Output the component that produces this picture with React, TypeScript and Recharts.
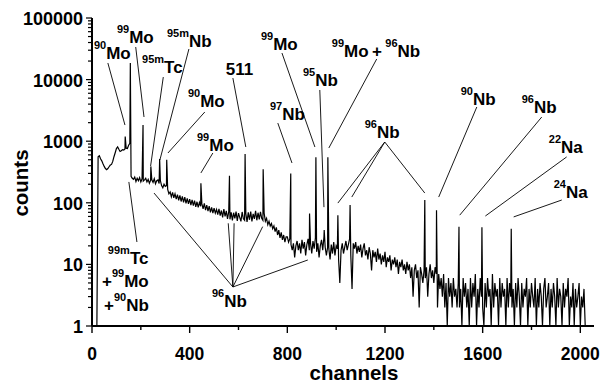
import React from 'react';
import { LineChart, Line, XAxis, YAxis, ReferenceLine, ReferenceDot, Customized } from 'recharts';

const FONT = '"Liberation Sans", Arial, Helvetica, sans-serif';

// spectrum, one value every 5 channels starting at channel 20
const START = 20;
const STEP = 5;

// channels 20 .. 495
const countsLow = [
  1, 560, 580, 520, 480, 430, 390, 360, 345, 360,
  385, 410, 420, 470, 560, 650, 760, 810, 740, 680,
  700, 730, 720, 750, 770, 760, 860, 920, 270, 250,
  240, 262, 222, 250, 228, 256, 218, 245, 226, 236,
  250, 218, 240, 208, 232, 236, 214, 246, 204, 228,
  235, 205, 230, 190, 175, 200, 185, 190, 165, 140,
  150, 125, 148, 120, 140, 115, 136, 110, 132, 105,
  127, 102, 124, 98, 118, 96, 115, 92, 112, 90,
  108, 86, 104, 84, 101, 88, 96, 80, 98, 76,
  92, 73, 88, 70, 84, 68,
];

// channels 500 .. 995
const countsMid = [
  82, 68, 78, 64, 80, 62, 75, 58, 79, 60,
  74, 55, 72, 54, 70, 52, 69, 56, 72, 51,
  68, 58, 50, 71, 55, 52, 67, 49, 70, 53,
  72, 50, 66, 55, 74, 52, 69, 54, 71, 56,
  52, 68, 50, 56, 44, 50, 42, 46, 38, 42,
  34, 40, 30, 36, 27, 33, 25, 30, 23, 28,
  28, 23, 26, 21, 17, 22, 13, 20, 24, 17,
  22, 15, 25, 18, 23, 14, 21, 26, 17, 22,
  15, 24, 18, 27, 16, 22, 13, 20, 25, 17,
  28, 19, 14, 19, 18, 12, 21, 15, 23, 14,
];

// channels 1000 .. 1495
const countsHigh = [
  20, 18, 12, 5, 17, 22, 15, 19, 24, 17,
  21, 26, 14, 4, 22, 18, 23, 15, 20, 16,
  21, 13, 18, 22, 14, 17, 12, 19, 15, 8,
  17, 13, 16, 11, 18, 12, 15, 10, 14, 11,
  16, 9, 13, 11, 14, 8, 12, 10, 13, 9,
  12, 7, 11, 9, 12, 8, 10, 7, 11, 8,
  10, 6, 9, 3, 8, 10, 6, 8, 2, 9,
  7, 5, 8, 6, 9, 3, 7, 10, 6, 8,
  5, 9, 7, 2, 7, 4, 6, 3, 7, 2,
  5, 1, 6, 3, 5, 2, 6, 3, 4, 2,
];

// channels 1500 .. 2020
const countsTail = [
  5, 2, 4, 1, 6, 3, 5, 2, 4, 1,
  6, 2, 5, 3, 7, 1, 4, 2, 6, 3,
  2, 1, 5, 2, 6, 3, 4, 1, 7, 2,
  5, 3, 4, 1, 6, 2, 5, 3, 4, 1,
  6, 2, 5, 3, 2, 4, 1, 5, 2, 6,
  3, 1, 5, 2, 4, 3, 6, 1, 4, 2,
  5, 3, 2, 6, 1, 4, 2, 5, 3, 1,
  4, 6, 2, 3, 5, 1, 4, 2, 5, 3,
  1, 6, 2, 4, 3, 1, 5, 2, 4, 3,
  6, 1, 3, 2, 5, 1, 4, 2, 3, 5,
  1, 3, 2, 4, 1,
];

const peakChannels = [136, 157, 209, 241, 277, 306, 446, 563, 627, 701, 814, 891, 917, 951, 966, 1007, 1057, 1363, 1411, 1503, 1597, 1717];
const peakCounts = [1190, 18600, 1830, 390, 515, 500, 208, 275, 620, 350, 300, 67, 550, 36, 550, 63, 92, 111, 76, 41, 40, 38];

const xMajorTicks = [0, 400, 800, 1200, 1600, 2000];
const xMinorTicks = [200, 600, 1000, 1400, 1800];
const yMajorTicks = [1, 10, 100, 1000, 10000, 100000];
const minorSteps = [2, 3, 4, 5, 6, 7, 8, 9];

const xTicks = [...xMajorTicks, ...xMinorTicks].sort((a, b) => a - b);
const yTicks = [
  ...yMajorTicks,
  ...yMajorTicks.slice(0, -1).flatMap((d) => minorSteps.map((m) => d * m)),
].sort((a, b) => a - b);

const data = [
  ...[countsLow, countsMid, countsHigh, countsTail].flat().map((c, i) => ({ ch: START + i * STEP, c })),
  ...peakChannels.map((ch, i) => ({ ch, c: peakCounts[i] })),
].sort((a, b) => a.ch - b.ch);

// labels: {..} marks a superscript; anchor = left end of text baseline, in channels / counts
const notes = [
  { ch: 8, c: 21600, label: '{90}Mo' },
  { ch: 102, c: 39300, label: '{99}Mo' },
  { ch: 205, c: 12800, label: '{95m}Tc' },
  { ch: 307, c: 33800, label: '{95m}Nb' },
  { ch: 393, c: 3590, label: '{90}Mo' },
  { ch: 430, c: 693, label: '{99}Mo' },
  { ch: 548, c: 11900, label: '511' },
  { ch: 692, c: 30300, label: '{99}Mo' },
  { ch: 729, c: 2210, label: '{97}Nb' },
  { ch: 864, c: 7870, label: '{95}Nb' },
  { ch: 982, c: 23300, label: '{99}Mo\u2009+\u2009{96}Nb' },
  { ch: 1117, c: 1130, label: '{96}Nb' },
  { ch: 1510, c: 3870, label: '{90}Nb' },
  { ch: 1760, c: 2870, label: '{96}Nb' },
  { ch: 1871, c: 643, label: '{22}Na' },
  { ch: 1891, c: 120, label: '{24}Na' },
  { ch: 491, c: 2.03, label: '{96}Nb' },
  { ch: 65, c: 10.1, label: '{99m}Tc' },
  { ch: 41, c: 4.3, label: '+{99}Mo' },
  { ch: 49, c: 1.75, label: '+{90}Nb' },
];

// leader lines: [channel1, count1, channel2, count2]
const leaders = [
  [65, 18600, 135, 1830],
  [179, 33800, 213, 2470],
  [292, 11000, 240, 395],
  [397, 31400, 278, 495],
  [462, 2980, 311, 643],
  [495, 643, 446, 305],
  [577, 10600, 630, 805],
  [778, 27000, 913, 805],
  [761, 1970, 819, 443],
  [933, 6780, 950, 85],
  [1166, 21600, 970, 776],
  [1199, 970, 1007, 99],
  [1199, 970, 1064, 124],
  [1199, 970, 1363, 144],
  [1576, 3590, 1420, 124],
  [1842, 2470, 1506, 63],
  [1944, 555, 1611, 61],
  [1924, 111, 1727, 59],
  [577, 4.3, 254, 144],
  [577, 4.3, 558, 46.5],
  [577, 4.3, 582, 46.5],
  [577, 4.3, 699, 41],
  [577, 4.3, 884, 11.8],
  [184, 23.1, 151, 218],
];

const SUP_SHIFT = 10;

function NoteText({ cx, cy, label }: { cx: number; cy: number; label: string }) {
  const parts = label.split(/(\{[^}]*\})/).filter(Boolean);
  let raised = false;
  return (
    <text x={cx} y={cy} fontFamily={FONT} fontWeight="bold" fill="#000">
      {parts.map((p, i) => {
        const sup = p.startsWith('{');
        const dy = sup && !raised ? -SUP_SHIFT : !sup && raised ? SUP_SHIFT : 0;
        raised = sup;
        return (
          <tspan key={i} fontSize={sup ? 11 : 17} dy={dy}>
            {sup ? p.slice(1, -1) : p}
          </tspan>
        );
      })}
    </text>
  );
}

function LeftTick({ x, y, payload }: any) {
  const major = yMajorTicks.includes(payload.value);
  return (
    <g>
      <line x1={x - (major ? 6 : 4)} x2={x} y1={y} y2={y} stroke="#000" strokeWidth={1.2} />
      {major && (
        <text x={x - 9} y={y + 7} textAnchor="end" fontFamily={FONT} fontWeight="bold" fontSize={18} fill="#000">
          {payload.value}
        </text>
      )}
    </g>
  );
}

function RightTick({ x, y, payload }: any) {
  const major = yMajorTicks.includes(payload.value);
  return <line x1={x} x2={x + (major ? 6 : 4)} y1={y} y2={y} stroke="#000" strokeWidth={1.2} />;
}

function BottomTick({ x, y, payload }: any) {
  const major = xMajorTicks.includes(payload.value);
  return (
    <g>
      <line x1={x} x2={x} y1={y} y2={y + (major ? 7 : 4)} stroke="#000" strokeWidth={1.4} />
      {major && (
        <text x={x} y={y + 34} textAnchor="middle" fontFamily={FONT} fontWeight="bold" fontSize={17.5} fill="#000">
          {payload.value}
        </text>
      )}
    </g>
  );
}

function AxisTitles() {
  return (
    <g fontFamily={FONT} fontWeight="bold" fontSize={20.5} fill="#000">
      <text x={354} y={380} textAnchor="middle">channels</text>
      <text transform="translate(27.5,183) rotate(-90)" textAnchor="middle">counts</text>
    </g>
  );
}

export default function App() {
  const axisLine = { stroke: '#000', strokeWidth: 2 };
  return (
    <div style={{ position: 'absolute', left: 0, top: 0, background: '#fff' }}>
      <LineChart width={603} height={383} data={data} margin={{ top: 18, right: 9, bottom: 0, left: 0 }}>
        <XAxis
          dataKey="ch"
          type="number"
          domain={[0, 2056]}
          ticks={xTicks}
          interval={0}
          height={57}
          tickSize={0}
          tickMargin={0}
          tickLine={false}
          tick={<BottomTick />}
          axisLine={axisLine}
          allowDataOverflow
        />
        <XAxis xAxisId="top" orientation="top" type="number" domain={[0, 2056]} height={0} tick={false} tickLine={false} axisLine={axisLine} />
        <YAxis
          type="number"
          scale="log"
          domain={[1, 100000]}
          ticks={yTicks}
          interval={0}
          width={92}
          tickSize={0}
          tickMargin={0}
          tickLine={false}
          tick={<LeftTick />}
          axisLine={axisLine}
          allowDataOverflow
        />
        <YAxis
          yAxisId="right"
          orientation="right"
          type="number"
          scale="log"
          domain={[1, 100000]}
          ticks={yTicks}
          interval={0}
          width={0}
          tickSize={0}
          tickMargin={0}
          tickLine={false}
          tick={<RightTick />}
          axisLine={axisLine}
          allowDataOverflow
        />
        <Line dataKey="c" type="linear" stroke="#000" strokeWidth={1.2} dot={false} isAnimationActive={false} />
        {leaders.map(([x1, y1, x2, y2], i) => (
          <ReferenceLine
            key={`l${i}`}
            segment={[{ x: x1, y: y1 }, { x: x2, y: y2 }]}
            stroke="#000"
            strokeWidth={0.9}
            ifOverflow="visible"
          />
        ))}
        {notes.map((n, i) => (
          <ReferenceDot
            key={`n${i}`}
            x={n.ch}
            y={n.c}
            r={0}
            ifOverflow="visible"
            shape={(p: any) => <NoteText cx={p.cx} cy={p.cy} label={n.label} />}
          />
        ))}
        <Customized component={AxisTitles} />
      </LineChart>
    </div>
  );
}
